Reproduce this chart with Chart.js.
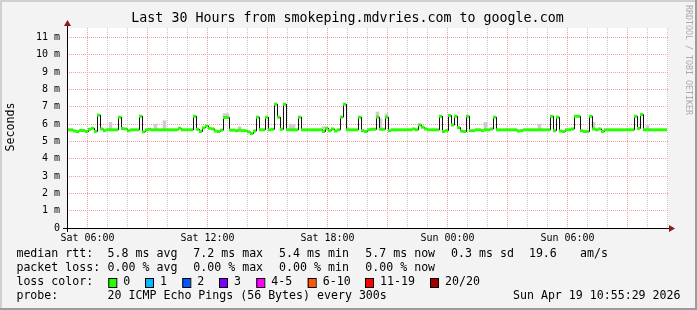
<!DOCTYPE html>
<html>
<head>
<meta charset="utf-8">
<script src="https://cdn.jsdelivr.net/npm/chart.js@4"></script>
<style>
  html, body { margin: 0; padding: 0; background: #f3f3f3; }
  canvas { display: block; }
</style>
</head>
<body>
<canvas id="smoke-chart" width="697" height="310"></canvas>
<script>
// Time axis: hours since Sat 00:00, one sample every 9 min
const startHour = 4.975;
const endHour = 35.025;
const stepHours = 0.15;

// median rtt per sample (ms)
const median = [
    5.67, 5.67, 5.60, 5.57, 5.63, 5.63, 5.57, 5.70, 5.76, 5.58,
    6.52, 5.72, 5.62, 5.67, 5.67, 5.67, 5.67, 6.40, 5.74, 5.72,
    5.62, 5.67, 5.67, 5.67, 6.45, 5.55, 5.67, 5.70, 5.67, 5.67,
    5.67, 5.67, 5.67, 5.67, 5.67, 5.67, 5.67, 5.76, 5.67, 5.67,
    5.67, 5.67, 6.45, 5.70, 5.57, 5.78, 5.90, 5.76, 5.72, 5.60,
    5.57, 5.65, 6.38, 6.38, 5.65, 5.65, 5.62, 5.65, 5.62, 5.62,
    5.55, 5.45, 5.60, 6.40, 5.67, 5.67, 6.40, 5.67, 5.70, 7.15,
    6.40, 5.70, 7.15, 5.67, 5.67, 5.67, 5.67, 6.40, 5.67, 5.67,
    5.67, 5.67, 5.67, 5.67, 5.67, 5.57, 5.76, 5.62, 5.72, 5.60,
    5.67, 6.40, 7.15, 5.67, 5.67, 5.67, 5.67, 6.40, 5.62, 5.57,
    5.67, 5.70, 5.70, 6.40, 5.70, 5.70, 6.40, 5.62, 5.67, 5.67,
    5.67, 5.67, 5.67, 5.67, 5.67, 5.72, 5.67, 5.95, 5.82, 5.72,
    5.67, 5.67, 5.67, 5.67, 6.45, 5.57, 5.62, 6.50, 5.95, 6.45,
    5.80, 5.60, 5.57, 6.45, 5.62, 5.62, 5.67, 5.67, 5.62, 5.67,
    5.67, 5.72, 6.40, 5.67, 5.67, 5.67, 5.67, 5.67, 5.67, 5.67,
    5.60, 5.62, 5.67, 5.67, 5.67, 5.67, 5.67, 5.67, 5.67, 5.67,
    5.67, 6.45, 5.62, 6.40, 5.60, 5.57, 5.67, 5.67, 5.72, 6.45,
    6.45, 5.62, 5.57, 5.57, 6.45, 5.72, 5.67, 5.72, 5.57, 5.67,
    5.67, 5.67, 5.67, 5.67, 5.67, 5.67, 5.67, 5.67, 5.67, 6.45,
    5.75, 6.55, 5.67, 5.67, 5.67, 5.67, 5.67, 5.67, 5.67, 5.67
];

// smoke (spread of the pings) where it shows above the median
const smokeIdx = [14, 29, 32, 52, 53, 57, 74, 75, 85, 93, 103, 104, 106, 139, 157, 175, 193];
const smokeTop = [6.10, 6.00, 6.20, 6.60, 6.60, 5.85, 6.00, 5.95, 5.85, 5.80, 6.70, 6.30, 6.60, 6.10, 6.00, 6.10, 5.92];

const xTickHours = [6, 12, 18, 24, 30];
const xTickLabels = ['Sat 06:00', 'Sat 12:00', 'Sat 18:00', 'Sun 00:00', 'Sun 06:00'];
const yTickValues = [0, 0.5, 1, 1.5, 2, 2.5, 3, 3.5, 4, 4.5, 5, 5.5, 6, 6.5, 7, 7.5, 8, 8.5, 9, 9.5, 10, 10.5, 11, 11.5];

const rttLabels = ['5.8 ms avg', '7.2 ms max', '5.4 ms min', '5.7 ms now', '0.3 ms sd', '19.6', 'am/s'];
const lossLabels = ['0.00 % avg', '0.00 % max', '0.00 % min', '0.00 % now'];
const lossNames = ['0', '1', '2', '3', '4-5', '6-10', '11-19', '20/20'];
const lossColors = ['#26ff00', '#00b8ff', '#0059ff', '#7e00ff', '#ff00ff', '#ff5500', '#ff0000', '#a10000'];

const statX = [107.6, 193.3, 279.1, 365.3, 451.1, 528.9, 580];
const boxX = [108.3, 145, 182.3, 219, 256.3, 307.7, 365, 430];

const hourGrid = [];
for (let h = 5; h <= 35; h++) hourGrid.push(h);

const MONO = "'DejaVu Sans Mono', monospace";
const halfPx = 0.025; // half a pixel in hours, keeps the 1px line crisp

// build datasets from the arrays
const lineData = median.map((v, i) => ({ x: startHour + i * stepHours + halfPx, y: v }));
lineData.push({ x: startHour + median.length * stepHours, y: median[median.length - 1] });
const greenData = median.map((v, i) => ({ x: startHour + (i + 0.5) * stepHours, y: v }));
const smokeData = smokeIdx.map((idx, k) => ({
    x: startHour + (idx + 0.5) * stepHours,
    y: [median[idx] - 0.03, smokeTop[k]]
}));

const frame = {
    id: 'frame',
    beforeDraw(chart) {
        const { ctx, chartArea: a } = chart;
        ctx.save();
        ctx.fillStyle = '#f3f3f3';
        ctx.fillRect(0, 0, 697, 310);
        ctx.fillStyle = '#d0d0d0';
        ctx.fillRect(0, 0, 697, 2);
        ctx.fillRect(0, 0, 2, 310);
        ctx.fillStyle = '#9c9c9c';
        ctx.fillRect(0, 308, 697, 2);
        ctx.fillRect(695, 0, 2, 310);
        ctx.fillStyle = '#ffffff';
        ctx.fillRect(a.left, a.top, a.right - a.left, a.bottom - a.top);
        ctx.restore();
    },
    afterDraw(chart) {
        const { ctx, chartArea: a } = chart;
        ctx.save();

        // axes with arrows
        ctx.strokeStyle = '#000';
        ctx.lineWidth = 1;
        ctx.beginPath();
        ctx.moveTo(63, a.bottom + 0.5);
        ctx.lineTo(a.right + 3, a.bottom + 0.5);
        ctx.moveTo(a.left + 0.5, a.bottom + 4);
        ctx.lineTo(a.left + 0.5, a.top - 3);
        ctx.stroke();
        ctx.fillStyle = '#8b1a1a';
        ctx.beginPath();
        ctx.moveTo(a.right + 1, a.bottom - 3);
        ctx.lineTo(a.right + 7, a.bottom + 0.5);
        ctx.lineTo(a.right + 1, a.bottom + 4);
        ctx.fill();
        ctx.beginPath();
        ctx.moveTo(a.left - 3, a.top - 2);
        ctx.lineTo(a.left + 0.5, a.top - 8);
        ctx.lineTo(a.left + 4, a.top - 2);
        ctx.fill();

        // title
        ctx.fillStyle = '#000';
        ctx.textBaseline = 'middle';
        ctx.textAlign = 'center';
        ctx.font = '13.3px ' + MONO;
        ctx.fillText('Last 30 Hours from smokeping.mdvries.com to google.com', 347.5, 19);

        // y axis title
        ctx.font = '11.6px ' + MONO;
        ctx.save();
        ctx.translate(11, 127);
        ctx.rotate(-Math.PI / 2);
        ctx.fillText('Seconds', 0, 0);
        ctx.restore();

        // watermark
        ctx.save();
        ctx.fillStyle = '#ababab';
        ctx.font = '8.3px ' + MONO;
        ctx.textAlign = 'left';
        ctx.translate(688.5, 5);
        ctx.rotate(Math.PI / 2);
        ctx.fillText('RRDTOOL / TOBI OETIKER', 0, 0);
        ctx.restore();

        // legend
        ctx.textAlign = 'left';
        ctx.font = '11.6px ' + MONO;
        ctx.fillText('median rtt:', 16.4, 254.3);
        rttLabels.forEach((t, i) => ctx.fillText(t, statX[i], 254.3));
        ctx.fillText('packet loss:', 16.4, 268.3);
        lossLabels.forEach((t, i) => ctx.fillText(t, statX[i], 268.3));
        ctx.fillText('loss color:', 16.4, 282);
        lossNames.forEach((t, i) => {
            ctx.fillStyle = lossColors[i];
            ctx.fillRect(boxX[i], 278, 8, 9);
            ctx.strokeStyle = '#000';
            ctx.strokeRect(boxX[i] + 0.5, 278.5, 8, 9);
            ctx.fillStyle = '#000';
            ctx.fillText(t, boxX[i] + 15, 282);
        });
        ctx.fillText('probe:', 16.4, 296);
        ctx.fillText('20 ICMP Echo Pings (56 Bytes) every 300s', 107.6, 296);
        ctx.textAlign = 'right';
        ctx.fillText('Sun Apr 19 10:55:29 2026', 680.5, 296);

        ctx.restore();
    }
};

new Chart(document.getElementById('smoke-chart'), {
    type: 'line',
    data: {
        datasets: [
            {
                type: 'line',
                label: 'median',
                data: greenData,
                showLine: false,
                pointStyle: 'line',
                pointRadius: 1.5,
                pointBorderWidth: 3,
                pointBorderColor: '#26ff00',
                pointBackgroundColor: '#26ff00',
                order: 0
            },
            {
                type: 'line',
                label: 'median line',
                data: lineData,
                stepped: true,
                borderColor: '#111111',
                borderWidth: 1,
                pointRadius: 0,
                fill: false,
                order: 1
            },
            {
                type: 'bar',
                label: 'smoke',
                data: smokeData,
                backgroundColor: '#cdcdcd',
                barThickness: 3,
                order: 2
            }
        ]
    },
    options: {
        responsive: false,
        animation: false,
        events: [],
        layout: { padding: { left: 0, top: 28, right: 29, bottom: 0 } },
        plugins: { legend: { display: false }, tooltip: { enabled: false }, title: { display: false } },
        scales: {
            x: {
                type: 'linear',
                min: startHour,
                max: endHour,
                offset: false,
                afterFit: s => { s.height = 82; },
                afterBuildTicks: s => { s.ticks = hourGrid.map(v => ({ value: v })); },
                grid: {
                    offset: false,
                    drawTicks: false,
                    color: c => (c.tick && c.tick.value % 3 === 0) ? '#f0a0a0' : '#c8c8c8'
                },
                border: { display: false, dash: [1, 1] },
                ticks: {
                    autoSkip: false,
                    maxRotation: 0,
                    padding: 4,
                    color: '#000',
                    font: { family: MONO, size: 10 },
                    callback: v => {
                        const k = xTickHours.indexOf(v);
                        return k >= 0 ? xTickLabels[k] : '';
                    }
                }
            },
            y: {
                type: 'linear',
                min: 0,
                max: 11.55,
                afterFit: s => { s.width = 67; },
                afterBuildTicks: s => { s.ticks = yTickValues.map(v => ({ value: v })); },
                grid: {
                    drawTicks: false,
                    color: c => (c.tick && Number.isInteger(c.tick.value)) ? '#f0a0a0' : '#c8c8c8'
                },
                border: { display: false, dash: [1, 1] },
                ticks: {
                    padding: 7,
                    color: '#000',
                    font: { family: MONO, size: 10 },
                    callback: v => Number.isInteger(v) ? (v === 0 ? '0' : v + ' m') : ''
                }
            }
        }
    },
    plugins: [frame]
});
</script>
</body>
</html>
